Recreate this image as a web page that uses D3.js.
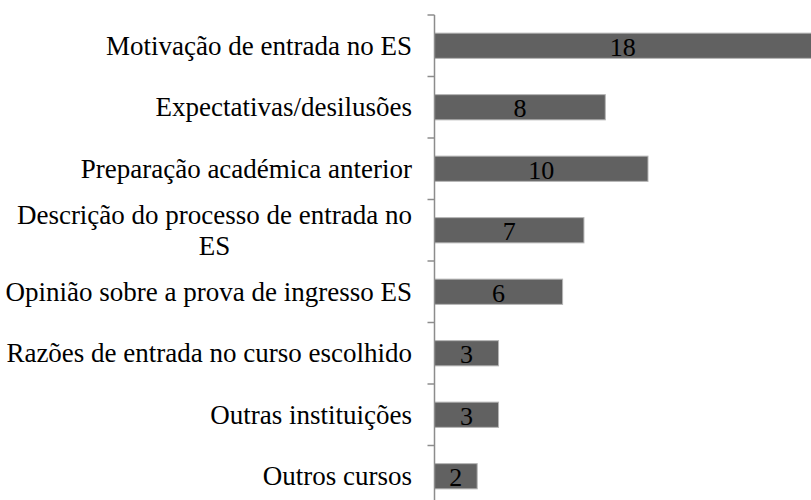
<!DOCTYPE html>
<html>
<head>
<meta charset="utf-8">
<script src="https://cdn.jsdelivr.net/npm/d3@7"></script>
<style>
  body { margin: 0; background: #fff; }
  svg { display: block; }
</style>
</head>
<body>
<svg id="chart" width="811" height="500" font-family="Liberation Serif, Tinos, Times New Roman, serif"></svg>
<script>
let categories = [
  ['Motivação de entrada no ES'],
  ['Expectativas/desilusões'],
  ['Preparação académica anterior'],
  ['Descrição do processo de entrada no', 'ES'],
  ['Opinião sobre a prova de ingresso ES'],
  ['Razões de entrada no curso escolhido'],
  ['Outras instituições'],
  ['Outros cursos']
]
let values = [18, 8, 10, 7, 6, 3, 3, 2]

let width = 811
let height = 500
let axisX = 434.5
let plotTop = 15
let step = 61.5

let svg = d3.select('#chart')
    .attr('width', width)
    .attr('height', height)

let keys = categories.map(d => d.join(' '))

let yScale = d3.scaleBand()
                .domain(keys)
                .range([plotTop, plotTop + step * keys.length])
                .paddingInner(0.59)
                .paddingOuter(0.295)

let xScale = d3.scaleLinear()
                .domain([0, 18])
                .range([axisX, axisX + 18 * 21.35])

// bars
svg.selectAll('rect.bar')
  .data(values)
  .enter()
  .append('rect')
    .attr('class', 'bar')
    .attr('x', xScale(0))
    .attr('y', (d, i) => yScale(keys[i]))
    .attr('width', d => xScale(d) - xScale(0))
    .attr('height', yScale.bandwidth())
    .attr('fill', '#616161')
    .attr('stroke', '#b5b5b5')
    .attr('stroke-width', 1)

// value labels
svg.selectAll('text.value')
  .data(values)
  .enter()
  .append('text')
    .attr('class', 'value')
    .attr('x', d => (xScale(0) + Math.min(xScale(d), width)) / 2)
    .attr('y', (d, i) => yScale(keys[i]) + yScale.bandwidth() / 2)
    .attr('dy', '0.38em')
    .attr('font-size', 26)
    .attr('text-anchor', 'middle')
    .attr('fill', '#000')
    .text(d => d)

// axis line with ticks between categories
let axisG = svg.append('g')
let tickYs = d3.range(keys.length + 1).map(i => plotTop + i * step)
axisG.append('line')
    .attr('x1', axisX).attr('x2', axisX)
    .attr('y1', plotTop).attr('y2', plotTop + step * keys.length)
    .attr('stroke', '#8c8c8c')
    .attr('stroke-width', 1.5)
axisG.selectAll('line.tick')
  .data(tickYs)
  .enter()
  .append('line')
    .attr('class', 'tick')
    .attr('x1', axisX - 7).attr('x2', axisX)
    .attr('y1', d => d).attr('y2', d => d)
    .attr('stroke', '#8c8c8c')
    .attr('stroke-width', 1.5)

// category labels
let labelG = svg.selectAll('g.label')
  .data(categories)
  .enter()
  .append('g')
    .attr('class', 'label')

labelG.each(function (lines, i) {
  let g = d3.select(this)
  let cy = yScale(keys[i]) + yScale.bandwidth() / 2
  let lh = 31
  let t = g.append('text')
      .attr('font-size', 27)
      .attr('fill', '#000')
  let y0 = cy - (lines.length - 1) * lh / 2
  lines.forEach((line, j) => {
    t.append('tspan')
      .attr('y', y0 + j * lh)
      .attr('dy', '0.34em')
      .text(line)
  })
  // right-align the block, center lines within it
  let tspans = t.selectAll('tspan').nodes()
  let maxW = d3.max(tspans.map(n => n.getComputedTextLength()))
  let right = 412
  tspans.forEach(n => {
    d3.select(n)
      .attr('x', right - maxW / 2)
      .attr('text-anchor', 'middle')
  })
})
</script>
</body>
</html>
